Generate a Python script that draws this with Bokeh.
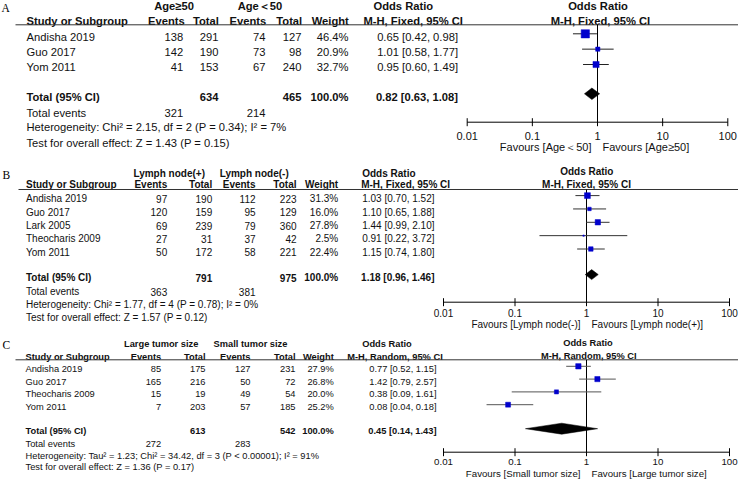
from bokeh.plotting import figure
from bokeh.models import Range1d, LogScale
from bokeh.embed import file_html
from bokeh.resources import INLINE
from bokeh.core.properties import value

# ---------------- data ----------------
A_group1 = "Age≥50"
A_group2 = "Age＜50"
A_studies = ["Andisha 2019", "Guo 2017", "Yom 2011"]
A_events1 = [138, 142, 41]
A_total1 = [291, 190, 153]
A_events2 = [74, 73, 67]
A_total2 = [127, 98, 240]
A_weight = [46.4, 20.9, 32.7]
A_or = [0.65, 1.01, 0.95]
A_lo = [0.42, 0.58, 0.60]
A_hi = [0.98, 1.77, 1.49]
A_sum = dict(n1=634, n2=465, e1=321, e2=214, est=0.82, lo=0.63, hi=1.08)
A_method = "M-H, Fixed, 95% CI"
A_het = "Heterogeneity: Chi² = 2.15, df = 2 (P = 0.34); I² = 7%"
A_test = "Test for overall effect: Z = 1.43 (P = 0.15)"
A_fav = ["Favours [Age＜50]", "Favours [Age≥50]"]

B_group1 = "Lymph node(+)"
B_group2 = "Lymph node(-)"
B_studies = ["Andisha 2019", "Guo 2017", "Lark 2005", "Theocharis 2009", "Yom 2011"]
B_events1 = [97, 120, 69, 27, 50]
B_total1 = [190, 159, 239, 31, 172]
B_events2 = [112, 95, 79, 37, 58]
B_total2 = [223, 129, 360, 42, 221]
B_weight = [31.3, 16.0, 27.8, 2.5, 22.4]
B_or = [1.03, 1.10, 1.44, 0.91, 1.15]
B_lo = [0.70, 0.65, 0.99, 0.22, 0.74]
B_hi = [1.52, 1.88, 2.10, 3.72, 1.80]
B_sum = dict(n1=791, n2=975, e1=363, e2=381, est=1.18, lo=0.96, hi=1.46)
B_method = "M-H, Fixed, 95% CI"
B_het = "Heterogeneity: Chi² = 1.77, df = 4 (P = 0.78); I² = 0%"
B_test = "Test for overall effect: Z = 1.57 (P = 0.12)"
B_fav = ["Favours [Lymph node(-)]", "Favours [Lymph node(+)]"]

C_group1 = "Large tumor size"
C_group2 = "Small tumor size"
C_studies = ["Andisha 2019", "Guo 2017", "Theocharis 2009", "Yom 2011"]
C_events1 = [85, 165, 15, 7]
C_total1 = [175, 216, 19, 203]
C_events2 = [127, 50, 49, 57]
C_total2 = [231, 72, 54, 185]
C_weight = [27.9, 26.8, 20.0, 25.2]
C_or = [0.77, 1.42, 0.38, 0.08]
C_lo = [0.52, 0.79, 0.09, 0.04]
C_hi = [1.15, 2.57, 1.61, 0.18]
C_sum = dict(n1=613, n2=542, e1=272, e2=283, est=0.45, lo=0.14, hi=1.43)
C_method = "M-H, Random, 95% CI"
C_het = "Heterogeneity: Tau² = 1.23; Chi² = 34.42, df = 3 (P < 0.00001); I² = 91%"
C_test = "Test for overall effect: Z = 1.36 (P = 0.17)"
C_fav = ["Favours [Small tumor size]", "Favours [Large tumor size]"]

TICKS = [0.01, 0.1, 1, 10, 100]
TICK_LABELS = ["0.01", "0.1", "1", "10", "100"]

# ---------------- layout ----------------
W_IMG, H_IMG = 738, 479
PW, PH = 738, 479
FS = 1.0
SANS = "Liberation Sans"
SERIF = "Liberation Serif"

p = figure(width=PW, height=PH, x_range=Range1d(0, W_IMG), y_range=Range1d(H_IMG, 0),
           output_backend="svg", toolbar_location=None, x_axis_type=None, y_axis_type=None,
           min_border=0, min_border_left=0, min_border_right=0, min_border_top=0, min_border_bottom=0)
p.outline_line_color = None
p.background_fill_color = "white"
p.border_fill_color = "white"


def log_range(x0, x1):
    d = 4.0 / (x1 - x0)
    return Range1d(10 ** (-2 - x0 * d), 10 ** (2 + (W_IMG - x1) * d))


p.extra_x_ranges = {"A": log_range(466.7, 727.3), "BC": log_range(443.0, 729.0)}
p.extra_x_scales = {"A": LogScale(), "BC": LogScale()}


def txt(xs, ys, texts, size, align="left", bold=False, font=SANS, color="#111111",
        xr="default", x_offset=0):
    p.text(x=xs, y=ys, text=texts, text_font=value(font),
           text_font_size=f"{size * FS:.2f}px", text_align=align, text_baseline="middle",
           text_font_style="bold" if bold else "normal", text_color=color,
           x_range_name=xr, x_offset=x_offset)


def panel(letter, g1, g2, studies, e1, n1, e2, n2, wt, est, lo, hi, sm, method, het, test, fav, L):
    fs = L["fs"]
    n = len(studies)
    rows = [L["row0"] + i * L["step"] for i in range(n)]
    txt([L["lab_x"]], [L["lab_y"]], [letter], L["lab_fs"], font=SERIF, color="black")
    txt([L["g1_cx"], L["g2_cx"]], [L["grp_y"]] * 2, [g1, g2], fs, align="center", bold=True)
    txt([L["or_x"]], [L["grp_y"]], ["Odds Ratio"], fs, bold=True)
    txt([L["rt_cx"]], [L["rt_or_y"]], ["Odds Ratio"], fs, align="center", bold=True)
    hy = L["hdr_y"]
    txt([L["study_x"]], [hy], ["Study or Subgroup"], fs, bold=True)
    txt(L["hdr_r"], [hy] * 5, ["Events", "Total", "Events", "Total", "Weight"], fs,
        align="right", bold=True)
    txt([L["mh_x"]], [hy], [method], fs, bold=True)
    txt([L["rt_mh_cx"]], [L["rt_mh_y"]], [method], fs, align="center", bold=True)
    p.segment(x0=[L["line_x0"]], x1=[W_IMG], y0=[L["line_y"]], y1=[L["line_y"]],
              line_color="#333333", line_width=1)
    cr = L["col_r"]
    txt([L["study_x"]] * n, rows, studies, fs)
    for col, arr in zip(cr, [e1, n1, e2, n2]):
        txt([col] * n, rows, [str(v) for v in arr], fs, align="right")
    txt([cr[4]] * n, rows, [f"{w:.1f}%" for w in wt], fs, align="right")
    txt([L["or_r"]] * n, rows, [f"{a:.2f} [{b:.2f}, {c:.2f}]" for a, b, c in zip(est, lo, hi)],
        fs, align="right")
    ty = L["tot_y"]
    txt([L["study_x"]], [ty], ["Total (95% CI)"], fs, bold=True)
    txt([cr[1], cr[3], cr[4]], [ty] * 3, [str(sm["n1"]), str(sm["n2"]), "100.0%"], fs,
        align="right", bold=True)
    txt([L["or_r"]], [ty], [f"{sm['est']:.2f} [{sm['lo']:.2f}, {sm['hi']:.2f}]"], fs,
        align="right", bold=True)
    txt([L["study_x"]], [L["tev_y"]], ["Total events"], fs)
    txt([cr[0], cr[2]], [L["tev_y"]] * 2, [str(sm["e1"]), str(sm["e2"])], fs, align="right")
    txt([L["study_x"]], [L["het_y"]], [het], fs)
    txt([L["study_x"]], [L["test_y"]], [test], fs)
    xr = L["xr"]
    off = L["f_off"]
    fy = [r + off for r in rows]
    ay = L["axis_y"]
    p.segment(x0=[1], x1=[1], y0=[L["line_y"]], y1=[ay], x_range_name=xr,
              line_color="black", line_width=1)
    p.segment(x0=lo, x1=hi, y0=fy, y1=fy, x_range_name=xr, line_color=L["ci_col"], line_width=1)
    sizes = [(1.0 + 0.157 * w) for w in wt]
    p.scatter(x=est, y=fy, size=sizes, marker="square", x_range_name=xr,
              fill_color="#0000CC", line_color="#0000CC", line_width=0.5)
    dy = ty + off
    h = L["dia_h"]
    p.patch(x=[sm["lo"], sm["est"], sm["hi"], sm["est"]], y=[dy, dy - h, dy, dy + h],
            x_range_name=xr, fill_color="black", line_color="black", line_width=0.5)
    p.segment(x0=[TICKS[0]], x1=[TICKS[-1]], y0=[ay], y1=[ay], x_range_name=xr,
              line_color="black", line_width=1)
    p.segment(x0=TICKS, x1=TICKS, y0=[ay - 4] * 5, y1=[ay + 4] * 5, x_range_name=xr,
              line_color="black", line_width=1)
    txt(TICKS, [L["tick_y"]] * 5, TICK_LABELS, L["tick_fs"], align="center", xr=xr)
    txt([1], [L["fav_y"]], [fav[0]], L["tick_fs"], align="right", xr=xr, x_offset=-6)
    txt([1], [L["fav_y"]], [fav[1]], L["tick_fs"], align="left", xr=xr, x_offset=5)


LA = dict(fs=11.2, lab_x=1, lab_y=7, lab_fs=11.5, grp_y=5.7, g1_cx=173.5, g2_cx=259.5, or_x=373,
          rt_cx=597.5, rt_or_y=5.5, hdr_y=20.7, study_x=26,
          hdr_r=[184.3, 218.3, 265.7, 301.7, 348.3], mh_x=363, rt_mh_cx=600, rt_mh_y=20.5,
          line_x0=15, line_y=24.3, row0=36, step=15.35, col_r=[182.7, 218, 265, 301, 348],
          or_r=457.5, tot_y=96, tev_y=112.3, het_y=126.7, test_y=142.7, xr="A", f_off=-2.7,
          axis_y=121.7, ci_col="#222222", dia_h=5.8, tick_y=135, tick_fs=11, fav_y=146.7)

LB = dict(fs=10, lab_x=2, lab_y=174, lab_fs=11.5, grp_y=172.5, g1_cx=168.7, g2_cx=253.7,
          or_x=361.7, rt_cx=586.3, rt_or_y=171, hdr_y=184, study_x=25.5,
          hdr_r=[166.7, 211.7, 255, 296, 337.7], mh_x=360.7, rt_mh_cx=586, rt_mh_y=183.5,
          line_x0=18, line_y=189, row0=198.3, step=13.35, col_r=[166.7, 211.7, 255, 296, 337.7],
          or_r=434, tot_y=277.3, tev_y=291, het_y=304.3, test_y=316.7, xr="BC", f_off=-3.2,
          axis_y=301.7, ci_col="#333333", dia_h=5.0, tick_y=312.7, tick_fs=10, fav_y=324)

LC = dict(fs=9.3, lab_x=2, lab_y=344, lab_fs=11.5, grp_y=343.5, g1_cx=160.7, g2_cx=250,
          or_x=361.7, rt_cx=587.5, rt_or_y=342.5, hdr_y=356, study_x=25,
          hdr_r=[160.7, 205, 250, 295, 333.3], mh_x=346.7, rt_mh_cx=588.3, rt_mh_y=355,
          line_x0=15, line_y=359.3, row0=368.3, step=12.8, col_r=[160.7, 205, 250, 295, 333.3],
          or_r=436, tot_y=430.7, tev_y=443.3, het_y=455, test_y=466.7, xr="BC", f_off=-2.5,
          axis_y=451.7, ci_col="#555555", dia_h=5.5, tick_y=461.7, tick_fs=9.7, fav_y=472.7)

panel("A", A_group1, A_group2, A_studies, A_events1, A_total1, A_events2, A_total2, A_weight,
      A_or, A_lo, A_hi, A_sum, A_method, A_het, A_test, A_fav, LA)
panel("B", B_group1, B_group2, B_studies, B_events1, B_total1, B_events2, B_total2, B_weight,
      B_or, B_lo, B_hi, B_sum, B_method, B_het, B_test, B_fav, LB)
panel("C", C_group1, C_group2, C_studies, C_events1, C_total1, C_events2, C_total2, C_weight,
      C_or, C_lo, C_hi, C_sum, C_method, C_het, C_test, C_fav, LC)

open("out.html", "w").write(file_html(p, INLINE))
